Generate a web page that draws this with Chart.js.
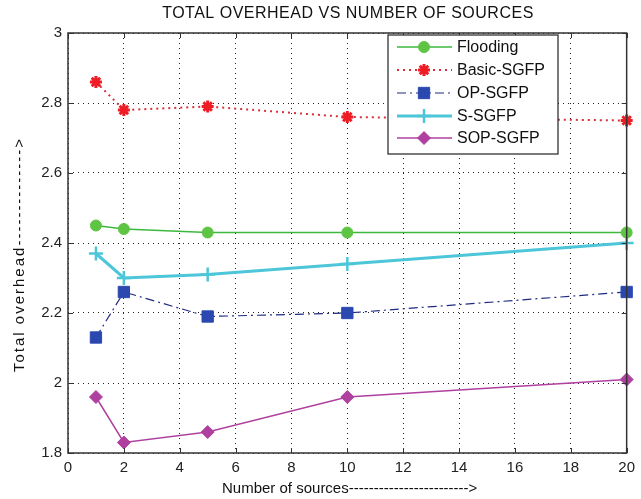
<!DOCTYPE html>
<html>
<head>
<meta charset="utf-8">
<script src="https://cdn.jsdelivr.net/npm/chart.js@4/dist/chart.umd.min.js"></script>
<style>
  html, body { margin: 0; padding: 0; background: #fff; }
  #wrap { width: 641px; height: 499px; position: relative; }
</style>
</head>
<body>
<div id="wrap"><canvas id="c" width="641" height="499"></canvas></div>
<script>
// Number of sources (x) and total overhead for each protocol
const sources = [1, 2, 5, 10, 20];
const flooding = [2.45, 2.44, 2.43, 2.43, 2.43];
const basicSgfp = [2.86, 2.78, 2.79, 2.76, 2.75];
const opSgfp = [2.13, 2.26, 2.19, 2.20, 2.26];
const sSgfp = [2.37, 2.30, 2.31, 2.34, 2.40];
const sopSgfp = [1.96, 1.83, 1.86, 1.96, 2.01];

const xTicks = [0, 2, 4, 6, 8, 10, 12, 14, 16, 18, 20];
const yTicks = [1.8, 2, 2.2, 2.4, 2.6, 2.8, 3];
const yTickLabels = ['1.8', '2', '2.2', '2.4', '2.6', '2.8', '3'];

const chartTitle = 'TOTAL OVERHEAD VS NUMBER OF SOURCES';
const xTitle = 'Number of sources------------------------>';
const yTitle = 'Total overhead-------------->';

const pts = (ys) => sources.map((x, i) => ({ x: x, y: ys[i] }));

const series = [
  { label: 'Flooding', data: pts(flooding), borderColor: '#3cb83c', backgroundColor: '#5ec443',
    pointBorderColor: '#5ec443', borderWidth: 1.5, borderDash: [], pointStyle: 'circle', pointRadius: 5.5, pointBorderWidth: 1 },
  { label: 'Basic-SGFP', data: pts(basicSgfp), borderColor: '#d8303a', backgroundColor: '#ee1c24',
    pointBorderColor: '#ee1c24', borderWidth: 2, borderDash: [2, 4], pointStyle: 'star', pointRadius: 6, pointBorderWidth: 3 },
  { label: 'OP-SGFP', data: pts(opSgfp), borderColor: '#1e2a80', backgroundColor: '#2b48b0',
    pointBorderColor: '#2b48b0', borderWidth: 1.2, borderDash: [9, 4, 2, 4], pointStyle: 'rect', pointRadius: 8, pointBorderWidth: 1 },
  { label: 'S-SGFP', data: pts(sSgfp), borderColor: '#4cc6d8', backgroundColor: '#4cc6d8',
    pointBorderColor: '#4cc6d8', borderWidth: 3, borderDash: [], pointStyle: 'cross', pointRadius: 7, pointBorderWidth: 2.5 },
  { label: 'SOP-SGFP', data: pts(sopSgfp), borderColor: '#b0409f', backgroundColor: '#b0409f',
    pointBorderColor: '#b0409f', borderWidth: 1.5, borderDash: [], pointStyle: 'rectRot', pointRadius: 6.5, pointBorderWidth: 1 }
];

const FONT = '"Liberation Sans", Arial, sans-serif';

// Frame, inward tick marks, titles and the boxed legend inside the plot
const decorations = {
  id: 'decorations',
  afterDraw(chart) {
    const ctx = chart.ctx;
    const a = chart.chartArea;
    const xs = chart.scales.x, ys = chart.scales.y;
    ctx.save();
    // axis box
    ctx.strokeStyle = '#333';
    ctx.lineWidth = 1.5;
    ctx.setLineDash([]);
    ctx.strokeRect(a.left, a.top, a.right - a.left, a.bottom - a.top);
    // inward ticks
    ctx.lineWidth = 1;
    ctx.beginPath();
    xTicks.forEach(v => {
      const px = Math.round(xs.getPixelForValue(v)) + 0.5;
      ctx.moveTo(px, a.bottom); ctx.lineTo(px, a.bottom - 5);
      ctx.moveTo(px, a.top); ctx.lineTo(px, a.top + 5);
    });
    yTicks.forEach(v => {
      const py = Math.round(ys.getPixelForValue(v)) + 0.5;
      ctx.moveTo(a.left, py); ctx.lineTo(a.left + 5, py);
      ctx.moveTo(a.right, py); ctx.lineTo(a.right - 5, py);
    });
    ctx.stroke();

    // titles
    ctx.fillStyle = '#111';
    ctx.textBaseline = 'middle';
    ctx.font = '16px ' + FONT;
    ctx.letterSpacing = '0.5px';
    ctx.textAlign = 'center';
    ctx.fillText(chartTitle, 348, 14);
    ctx.letterSpacing = '0px';
    ctx.font = '15px ' + FONT;
    ctx.textAlign = 'left';
    ctx.fillText(xTitle, 222, 489);
    ctx.save();
    ctx.translate(20, 372);
    ctx.rotate(-Math.PI / 2);
    ctx.letterSpacing = '2px';
    ctx.font = '15px ' + FONT;
    ctx.fillText(yTitle, 0, 0);
    ctx.restore();
    ctx.letterSpacing = '0px';

    // legend
    const lx = 388, ly = 35, lw = 170, lh = 119;
    ctx.fillStyle = '#fff';
    ctx.fillRect(lx, ly, lw, lh);
    ctx.strokeStyle = '#222';
    ctx.lineWidth = 1.2;
    ctx.strokeRect(lx, ly, lw, lh);
    const rowY = [47, 70, 93, 116, 138];
    series.forEach((s, i) => {
      const y = rowY[i];
      ctx.strokeStyle = s.borderColor;
      ctx.lineWidth = s.borderWidth;
      ctx.setLineDash(s.borderDash);
      ctx.beginPath();
      ctx.moveTo(397, y); ctx.lineTo(452, y);
      ctx.stroke();
      ctx.setLineDash([]);
      ctx.fillStyle = s.backgroundColor;
      ctx.strokeStyle = s.pointBorderColor;
      ctx.lineWidth = s.pointBorderWidth;
      Chart.helpers.drawPoint(ctx, { pointStyle: s.pointStyle, radius: s.pointRadius, rotation: 0, borderWidth: s.pointBorderWidth }, 424, y);
      ctx.fillStyle = '#111';
      ctx.font = '16px ' + FONT;
      ctx.textAlign = 'left';
      ctx.fillText(s.label, 457, y + 1);
    });
    ctx.restore();
  }
};

new Chart(document.getElementById('c'), {
  type: 'line',
  data: {
    datasets: series.map(s => ({
      label: s.label, data: s.data,
      borderColor: s.borderColor, backgroundColor: s.backgroundColor,
      borderWidth: s.borderWidth, borderDash: s.borderDash,
      pointStyle: s.pointStyle, pointRadius: s.pointRadius,
      pointBackgroundColor: s.backgroundColor, pointBorderColor: s.pointBorderColor,
      pointBorderWidth: s.pointBorderWidth, tension: 0, fill: false, clip: false
    }))
  },
  options: {
    responsive: false,
    animation: false,
    layout: { padding: { top: 33, right: 5, left: 0, bottom: 0 } },
    plugins: { legend: { display: false }, title: { display: false }, tooltip: { enabled: false } },
    scales: {
      x: {
        type: 'linear', min: 0, max: 20,
        afterBuildTicks: (s) => { s.ticks = xTicks.map(v => ({ value: v })); },
        afterFit: (s) => { s.height = 46; },
        grid: { color: '#222', lineWidth: 1, drawTicks: false },
        border: { display: false, dash: [1, 4] },
        ticks: { color: '#222', font: { family: FONT, size: 15 }, padding: 6, maxRotation: 0,
          callback: (v) => String(v) }
      },
      y: {
        type: 'linear', min: 1.8, max: 3,
        afterBuildTicks: (s) => { s.ticks = yTicks.map(v => ({ value: v })); },
        afterFit: (s) => { s.width = 68; },
        grid: { color: '#222', lineWidth: 1, drawTicks: false },
        border: { display: false, dash: [1, 4] },
        ticks: { color: '#222', font: { family: FONT, size: 15 }, padding: 6,
          callback: (v) => { const i = yTicks.findIndex(t => Math.abs(t - v) < 1e-6); return i >= 0 ? yTickLabels[i] : ''; } }
      }
    }
  },
  plugins: [decorations]
});
</script>
</body>
</html>
